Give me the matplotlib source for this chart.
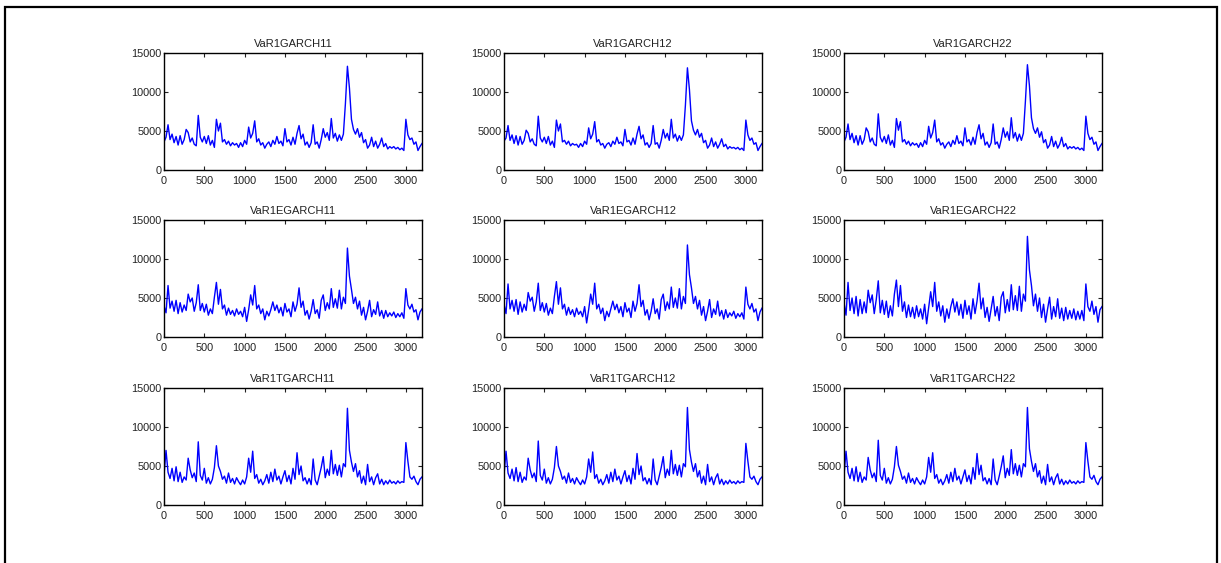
import numpy as np
import matplotlib.pyplot as plt
from matplotlib.patches import Rectangle

plt.rcParams['font.family'] = ['Liberation Sans', 'DejaVu Sans']

step = 25

garch11 = [3600, 4200, 5800, 3900, 4600, 3500, 4300, 3200, 4400, 3300, 3900, 5200, 4800, 3600, 4100, 3300,
           3100, 7000, 4200, 3600, 4300, 3400, 4400, 3200, 3800, 2900, 6500, 5000, 6000, 3600, 3900, 3300,
           3700, 3100, 3500, 3200, 3400, 2900, 3500, 3000, 3800, 3300, 5500, 4100, 4700, 6300, 3600, 4000,
           3200, 3500, 2800, 3300, 3600, 3000, 3800, 3300, 4300, 3400, 3700, 3100, 5300, 3600, 3900, 3200,
           4200, 3300, 4700, 5700, 4000, 4600, 3200, 3600, 2900, 3500, 5800, 3300, 3600, 2800, 3900, 5300,
           4200, 4800, 3800, 6600, 4100, 4700, 3700, 4500, 3800, 4600, 8500, 13300, 10500, 6500, 5200, 4600,
           5300, 4200, 4800, 3500, 3900, 2800, 3200, 4200, 3000, 3700, 2800, 3300, 4100, 3000, 3400, 2700,
           3000, 2800, 3000, 2700, 2900, 2600, 2800, 2500, 6500, 4500, 3900, 4100, 3300, 3600, 2500, 3000,
           3400]
garch12 = [3700, 4100, 5700, 3800, 4500, 3400, 4400, 3200, 4300, 3300, 3800, 5100, 4700, 3600, 4000, 3300,
           3100, 6900, 4100, 3600, 4200, 3400, 4300, 3200, 3700, 2900, 6400, 5000, 5900, 3600, 3800, 3300,
           3700, 3100, 3400, 3200, 3300, 2900, 3400, 3000, 3700, 3300, 5400, 4000, 4600, 6200, 3600, 3900,
           3200, 3400, 2800, 3300, 3500, 3000, 3700, 3300, 4200, 3400, 3600, 3100, 5200, 3600, 3800, 3200,
           4100, 3300, 4600, 5600, 4000, 4500, 3200, 3500, 2900, 3400, 5700, 3300, 3500, 2800, 3800, 5200,
           4100, 4700, 3800, 6500, 4100, 4600, 3700, 4400, 3800, 4500, 8300, 13100, 10300, 6300, 5100, 4500,
           5200, 4200, 4700, 3500, 3800, 2800, 3200, 4100, 3000, 3600, 2800, 3300, 4000, 3000, 3300, 2700,
           3000, 2800, 2900, 2700, 2900, 2600, 2800, 2500, 6400, 4500, 3800, 4100, 3300, 3500, 2500, 3000,
           3400]
garch22 = [3600, 4200, 5900, 3900, 4700, 3500, 4400, 3200, 4400, 3300, 3900, 5400, 4900, 3600, 4100, 3300,
           3100, 7200, 4200, 3600, 4300, 3400, 4500, 3200, 3800, 2900, 6600, 5100, 6200, 3600, 3900, 3300,
           3700, 3100, 3500, 3200, 3400, 2900, 3500, 3000, 3800, 3300, 5600, 4100, 4800, 6400, 3600, 4000,
           3200, 3500, 2800, 3300, 3600, 3000, 3800, 3300, 4400, 3400, 3700, 3100, 5400, 3600, 3900, 3200,
           4200, 3300, 4800, 5800, 4000, 4700, 3200, 3600, 2900, 3500, 5900, 3300, 3600, 2800, 3900, 5400,
           4200, 4900, 3800, 6700, 4100, 4800, 3700, 4600, 3800, 4700, 8800, 13500, 10800, 6700, 5300, 4700,
           5400, 4200, 4900, 3500, 3900, 2800, 3200, 4300, 3000, 3700, 2800, 3300, 4200, 3000, 3400, 2700,
           3000, 2800, 3000, 2700, 2900, 2600, 2800, 2500, 6900, 4700, 3900, 4200, 3300, 3600, 2500, 3000,
           3400]

egarch11 = [4000, 3100, 6600, 3700, 4600, 3300, 4700, 3000, 4400, 3200, 4100, 3400, 5500, 4500, 5000, 3300,
            4400, 6700, 3400, 4300, 3200, 4200, 2800, 3600, 3000, 5100, 7000, 4200, 6100, 3600, 4100, 2800,
            3700, 2900, 3400, 2700, 3600, 2900, 3300, 2600, 3800, 2000, 3500, 5400, 4100, 6600, 3600, 4100,
            3000, 3600, 2200, 3300, 2700, 3500, 4500, 3400, 4100, 3100, 3800, 2700, 4300, 3200, 3600, 2600,
            4500, 3300, 4200, 6300, 3800, 4600, 2800, 3400, 2300, 3300, 4800, 3000, 3500, 2400, 4700, 5400,
            3400, 4400, 3600, 6200, 3800, 4900, 3700, 6000, 3600, 5100, 4300, 11400, 7800, 6100, 4300, 5100,
            3600, 4600, 2800, 3800, 2200, 3300, 4700, 2600, 3500, 2900, 4500, 2700, 3400, 2400, 3400, 2600,
            3100, 2700, 3200, 2500, 3000, 2600, 3100, 2400, 6200, 4100, 3600, 4200, 3200, 3500, 2200, 3200,
            3600]
egarch12 = [4200, 3000, 6800, 3600, 4700, 3300, 4800, 2900, 4500, 3200, 4200, 3400, 5700, 4600, 5100, 3300,
            4500, 6900, 3400, 4400, 3200, 4300, 2800, 3700, 3000, 5200, 7100, 4200, 6300, 3600, 4200, 2800,
            3800, 2900, 3500, 2600, 3700, 2900, 3300, 2600, 3900, 1800, 3500, 5500, 4200, 6900, 3600, 4200,
            3000, 3700, 2100, 3300, 2600, 3600, 4600, 3500, 4200, 3100, 3900, 2600, 4400, 3200, 3700, 2500,
            4600, 3300, 4300, 6700, 3900, 4700, 2800, 3500, 2200, 3300, 4900, 3000, 3600, 2300, 4800, 5500,
            3400, 4500, 3600, 6400, 3800, 5000, 3700, 6200, 3600, 5200, 4300, 11800, 8000, 6300, 4300, 5200,
            3600, 4700, 2800, 3900, 2100, 3300, 4800, 2500, 3600, 2900, 4600, 2700, 3400, 2300, 3500, 2500,
            3100, 2700, 3300, 2400, 3000, 2600, 3100, 2300, 6400, 4200, 3600, 4300, 3200, 3600, 2100, 3200,
            3700]
egarch22 = [4400, 2800, 7000, 3400, 5000, 3000, 5200, 2700, 4800, 3000, 4500, 3100, 6000, 4400, 5400, 3000,
            4800, 7200, 3100, 4700, 2900, 4600, 2500, 4000, 2700, 5500, 7300, 3900, 6600, 3300, 4500, 2500,
            4100, 2600, 3800, 2400, 4000, 2600, 3600, 2300, 4200, 1700, 3800, 5800, 3900, 7000, 3300, 4500,
            2700, 4000, 1900, 3600, 2400, 3900, 4900, 3200, 4500, 2800, 4200, 2400, 4700, 2900, 4000, 2300,
            4900, 3000, 4600, 6900, 3600, 5000, 2500, 3800, 2000, 3600, 5200, 2700, 3900, 2100, 5100, 5800,
            3100, 4800, 3300, 6700, 3500, 5300, 3400, 6500, 3300, 5500, 4600, 12900, 8600, 6600, 4000, 5500,
            3300, 5000, 2500, 4200, 1900, 3600, 5100, 2300, 3900, 2600, 4900, 2400, 3700, 2100, 3800, 2300,
            3400, 2400, 3600, 2200, 3300, 2300, 3400, 2100, 6800, 3900, 3300, 4600, 2900, 3900, 1900, 3500,
            3900]

tgarch11 = [3800, 7000, 4200, 3400, 4700, 3100, 4900, 3000, 4200, 2900, 3600, 3200, 6000, 4500, 3500, 4100,
            3000, 8100, 3800, 3200, 4700, 2800, 3500, 2700, 3300, 4800, 7600, 5000, 4300, 3300, 3700, 2800,
            4100, 2900, 3400, 2700, 3500, 3000, 2600, 3200, 2700, 3600, 6000, 4200, 6900, 3400, 3900, 2800,
            3300, 2600, 3100, 3900, 2800, 4200, 3000, 4600, 3200, 3700, 2700, 3600, 4400, 3000, 3800, 2700,
            4700, 3300, 6700, 3900, 5000, 3100, 3500, 2700, 3400, 2600, 5900, 3200, 2600, 3700, 4800, 6200,
            3500, 4600, 3800, 7000, 4000, 5200, 3800, 5100, 3600, 5300, 4900, 12400, 7000, 5500, 4300, 5300,
            3600, 4400, 2800, 3700, 2600, 5200, 3000, 3600, 2600, 3500, 4000, 2700, 3300, 2600, 3100, 2700,
            3200, 2800, 3000, 2700, 3100, 2800, 3000, 2900, 8000, 5600, 3600, 3300, 3700, 3000, 2600, 3300,
            3600]
tgarch12 = [3800, 6900, 4100, 3400, 4600, 3100, 4800, 3000, 4200, 2900, 3600, 3200, 6000, 4500, 3500, 4100,
            3000, 8200, 3800, 3200, 4600, 2800, 3500, 2700, 3300, 4800, 7500, 5000, 4300, 3300, 3700, 2800,
            4100, 2900, 3400, 2700, 3500, 3000, 2600, 3200, 2700, 3600, 5900, 4200, 6800, 3400, 3900, 2800,
            3300, 2600, 3100, 3900, 2800, 4200, 3000, 4600, 3200, 3700, 2700, 3600, 4400, 3000, 3800, 2700,
            4700, 3300, 6600, 3900, 5000, 3100, 3500, 2700, 3400, 2600, 5900, 3200, 2600, 3700, 4800, 6200,
            3500, 4600, 3800, 7000, 4000, 5200, 3800, 5100, 3600, 5300, 4900, 12500, 7100, 5500, 4300, 5300,
            3600, 4400, 2800, 3700, 2600, 5200, 3000, 3600, 2600, 3500, 4000, 2700, 3300, 2600, 3100, 2700,
            3200, 2800, 3000, 2700, 3100, 2800, 3000, 2900, 7900, 5600, 3600, 3300, 3700, 3000, 2600, 3300,
            3600]
tgarch22 = [3800, 6900, 4200, 3400, 4700, 3100, 4900, 3000, 4200, 2900, 3600, 3200, 6100, 4500, 3500, 4100,
            3000, 8300, 3800, 3200, 4700, 2800, 3500, 2700, 3300, 4900, 7500, 5100, 4300, 3300, 3700, 2800,
            4100, 2900, 3400, 2700, 3500, 3000, 2600, 3200, 2700, 3600, 6100, 4200, 6700, 3400, 3900, 2800,
            3300, 2600, 3100, 3900, 2800, 4200, 3000, 4700, 3200, 3700, 2700, 3600, 4500, 3000, 3800, 2700,
            4800, 3300, 6600, 3900, 5100, 3100, 3500, 2700, 3400, 2600, 5900, 3200, 2600, 3700, 4900, 6300,
            3500, 4700, 3800, 7100, 4000, 5300, 3800, 5100, 3600, 5300, 4900, 12500, 7200, 5600, 4300, 5300,
            3600, 4400, 2800, 3700, 2600, 5200, 3000, 3600, 2600, 3500, 4000, 2700, 3300, 2600, 3100, 2700,
            3200, 2800, 3000, 2700, 3100, 2800, 3000, 2900, 8000, 5600, 3600, 3300, 3800, 3000, 2600, 3300,
            3600]

titles = ['VaR1GARCH11', 'VaR1GARCH12', 'VaR1GARCH22',
          'VaR1EGARCH11', 'VaR1EGARCH12', 'VaR1EGARCH22',
          'VaR1TGARCH11', 'VaR1TGARCH12', 'VaR1TGARCH22']
series = [garch11, garch12, garch22, egarch11, egarch12, egarch22, tgarch11, tgarch12, tgarch22]

W, H = 1221, 563
fig = plt.figure(figsize=(W / 100, H / 100), dpi=100)

# outer page frame
fig.patches.append(Rectangle((5 / W, -0.05), 1212 / W, 1.05 - 7 / H, transform=fig.transFigure,
                             fill=False, edgecolor='black', linewidth=1.6))

lefts = [164, 504, 844]
tops = [53, 220, 388]
aw, ah = 258, 117

for i, (name, vals) in enumerate(zip(titles, series)):
    r, c = divmod(i, 3)
    ax = fig.add_axes([lefts[c] / W, 1 - (tops[r] + ah) / H, aw / W, ah / H])
    x = np.arange(len(vals)) * step
    ax.plot(x, vals, color='#0000ff', linewidth=1.0)
    ax.set_xlim(0, 3200)
    ax.set_ylim(0, 15000)
    ax.set_xticks(np.arange(0, 3001, 500))
    ax.set_yticks([0, 5000, 10000, 15000])
    ax.tick_params(direction='in', length=3, width=0.8, top=True, right=True,
                   labelsize=7.8, colors='#222222')
    ax.tick_params(axis='x', pad=4)
    ax.tick_params(axis='y', pad=2)
    for s in ax.spines.values():
        s.set_linewidth(1.0)
    ax.set_title(name, fontsize=8, pad=4, color='#222222')

fig.savefig('out.png', dpi=100)
